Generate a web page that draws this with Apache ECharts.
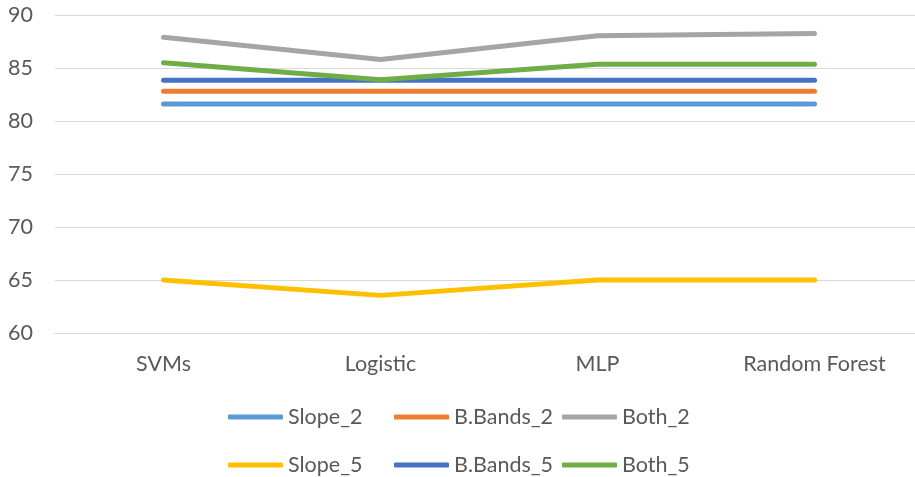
<!DOCTYPE html>
<html>
<head>
<meta charset="utf-8">
<script src="https://cdn.jsdelivr.net/npm/echarts@6/dist/echarts.min.js"></script>
<style>
  html, body { margin: 0; padding: 0; background: #fff; }
  #chart { width: 915px; height: 477px; }
</style>
</head>
<body>
<div id="chart"></div>
<script>
// Classifier accuracy (%) for each feature set
const categories = ['SVMs', 'Logistic', 'MLP', 'Random Forest'];
const slope2   = [81.6, 81.6, 81.6, 81.6];
const bbands2  = [82.8, 82.8, 82.8, 82.8];
const both2    = [87.9, 85.8, 88.05, 88.25];
const slope5   = [65.0, 63.55, 65.0, 65.0];
const bbands5  = [83.85, 83.85, 83.85, 83.85];
const both5    = [85.5, 83.9, 85.35, 85.35];
const yTicks   = { min: 60, max: 90, step: 5 };

const seriesDefs = [
  { name: 'Slope_2',   data: slope2,  color: '#5B9BD5' },
  { name: 'B.Bands_2', data: bbands2, color: '#ED7D31' },
  { name: 'Both_2',    data: both2,   color: '#A5A5A5' },
  { name: 'Slope_5',   data: slope5,  color: '#FFC000' },
  { name: 'B.Bands_5', data: bbands5, color: '#4472C4' },
  { name: 'Both_5',    data: both5,   color: '#70AD47' }
];

const FONT = 'Lato';
const TEXT = '#595959';
const FS = 21.5;

// legend laid out as a 3-column, 2-row block
const legendCols = [228, 394, 562];
const legendRows = [406, 454];
const legends = seriesDefs.map((s, i) => ({
  left: legendCols[i % 3],
  top: legendRows[Math.floor(i / 3)],
  padding: 0,
  icon: 'roundRect',
  itemWidth: 55,
  itemHeight: 5,
  itemGap: 0,
  data: [s.name],
  textStyle: { fontFamily: FONT, fontSize: FS, color: TEXT }
}));

const chart = echarts.init(document.getElementById('chart'), null, { renderer: 'canvas' });
chart.setOption({
  animation: false,
  backgroundColor: '#ffffff',
  grid: { left: 55, width: 868, top: 15, bottom: 144, outerBoundsMode: 'none', containLabel: false },
  xAxis: {
    type: 'category',
    data: categories,
    boundaryGap: true,
    axisLine: { show: true, lineStyle: { color: '#d9d9d9', width: 1 } },
    axisTick: { show: false },
    axisLabel: { fontFamily: FONT, fontSize: FS, color: TEXT, margin: 20 }
  },
  yAxis: {
    type: 'value',
    min: yTicks.min,
    max: yTicks.max,
    interval: yTicks.step,
    axisLine: { show: false },
    axisTick: { show: false },
    axisLabel: { fontFamily: FONT, fontSize: FS, color: TEXT, margin: 22 },
    splitLine: { lineStyle: { color: '#d9d9d9', width: 1 } }
  },
  legend: legends,
  series: seriesDefs.map(s => ({
    name: s.name,
    type: 'line',
    data: s.data,
    symbol: 'none',
    showSymbol: false,
    color: s.color,
    itemStyle: { color: s.color },
    lineStyle: { color: s.color, width: 5, cap: 'round', join: 'round' }
  }))
});
</script>
</body>
</html>
